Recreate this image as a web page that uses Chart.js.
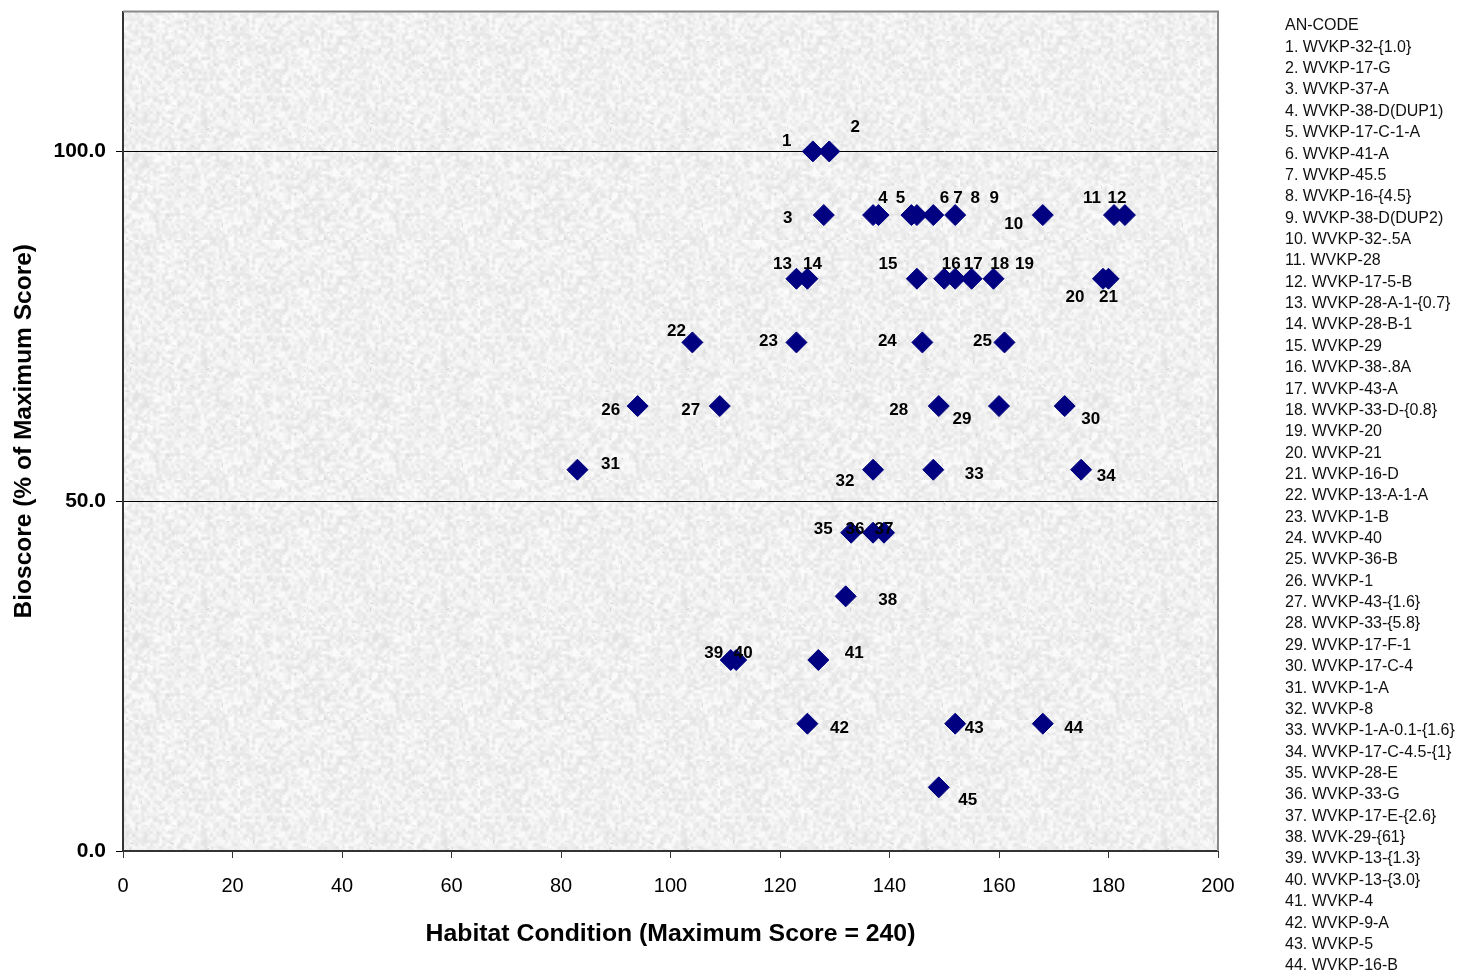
<!DOCTYPE html>
<html><head><meta charset="utf-8">
<script src="https://cdn.jsdelivr.net/npm/chart.js@4.4.1/dist/chart.umd.min.js"></script>
<style>html,body{margin:0;padding:0;background:#fff;overflow:hidden}</style>
</head><body>
<canvas id="c" width="1457" height="971"></canvas>
<script>
// ---- DATA ----
const pointNumbers = [1,2,3,4,5,6,7,8,9,10,11,12,13,14,15,16,17,18,19,20,21,22,23,24,25,26,27,28,29,30,31,32,33,34,35,36,37,38,39,40,41,42,43,44,45];
const habitatScores = [126,129,128,137,138,144,145,148,152,168,181,183,123,125,145,150,152,155,159,179,180,104,123,146,161,94,109,149,160,172,83,137,148,175,133,137,139,132,111,112,127,125,152,168,149];
const bioscores = [100,100,
  90.9,90.9,90.9,90.9,90.9,90.9,90.9,90.9,90.9,90.9,
  81.8,81.8,81.8,81.8,81.8,81.8,81.8,81.8,81.8,
  72.7,72.7,72.7,72.7,
  63.6,63.6,63.6,63.6,63.6,
  54.5,54.5,54.5,54.5,
  45.5,45.5,45.5,
  36.4,
  27.3,27.3,27.3,
  18.2,18.2,18.2,
  9.1];
const siteCodes = ["WVKP-32-{1.0}","WVKP-17-G","WVKP-37-A","WVKP-38-D(DUP1)","WVKP-17-C-1-A","WVKP-41-A","WVKP-45.5","WVKP-16-{4.5}","WVKP-38-D(DUP2)","WVKP-32-.5A","WVKP-28","WVKP-17-5-B","WVKP-28-A-1-{0.7}","WVKP-28-B-1","WVKP-29","WVKP-38-.8A","WVKP-43-A","WVKP-33-D-{0.8}","WVKP-20","WVKP-21","WVKP-16-D","WVKP-13-A-1-A","WVKP-1-B","WVKP-40","WVKP-36-B","WVKP-1","WVKP-43-{1.6}","WVKP-33-{5.8}","WVKP-17-F-1","WVKP-17-C-4","WVKP-1-A","WVKP-8","WVKP-1-A-0.1-{1.6}","WVKP-17-C-4.5-{1}","WVKP-28-E","WVKP-33-G","WVKP-17-E-{2.6}","WVK-29-{61}","WVKP-13-{1.3}","WVKP-13-{3.0}","WVKP-4","WVKP-9-A","WVKP-5","WVKP-16-B"];
const legendTitle = "AN-CODE";
const xTickValues = [0,20,40,60,80,100,120,140,160,180,200];
const yTickValues = [0,50,100];
const xTitle = "Habitat Condition (Maximum Score = 240)";
const yTitle = "Bioscore (% of Maximum Score)";

// ---- label placement (pixel offsets from marker centre) ----
const labelOffsets = [
  [-26,-10],[26,-24],[-36,3],[10,-17],[22,-17],[33,-17],[41,-17],[42,-17],[39,-17],[-29,9],
  [-22,-17],[-8,-17],[-14,-14],[5,-14],[-29,-14],[7,-14],[18,-14],[28,-14],[31,-14],[-28,19],
  [0,19],[-16,-11],[-28,-1],[-35,-1],[-22,-1],[-27,4],[-29,4],[-40,4],[-37,13],[26,13],
  [33,-5],[-28,12],[41,5],[25,7],[-28,-3],[-18,-3],[0,-3],[42,4],[-17,-7],[7,-7],
  [36,-7],[32,5],[19,5],[31,5],[29,13]
];

const FONT = "'Liberation Sans', Arial, Helvetica, sans-serif";

// ---- textured plot background (deterministic) ----
function mulberry32(a){return function(){a|=0;a=a+0x6D2B79F5|0;let t=Math.imul(a^a>>>15,1|a);t=t+Math.imul(t^t>>>7,61|t)^t;return((t^t>>>14)>>>0)/4294967296;}}
function makeTexture(){
  const rnd = mulberry32(12345);
  const S = 240;
  const small = document.createElement('canvas'); small.width = S/3; small.height = S/3;
  const sc = small.getContext('2d');
  const id = sc.createImageData(S/3, S/3);
  for (let i=0;i<id.data.length;i+=4){
    const v = 226 + Math.floor(rnd()*29);
    id.data[i]=v;id.data[i+1]=v;id.data[i+2]=v;id.data[i+3]=255;
  }
  sc.putImageData(id,0,0);
  const big = document.createElement('canvas'); big.width=S; big.height=S;
  const bc = big.getContext('2d');
  bc.imageSmoothingEnabled = true;
  bc.drawImage(small,0,0,S,S);
  for (let k=0;k<900;k++){
    const x=rnd()*S, y=rnd()*S, a=rnd()*Math.PI, l=1+rnd()*3;
    const g = rnd()<0.45 ? 210+Math.floor(rnd()*25) : 246+Math.floor(rnd()*9);
    bc.strokeStyle = 'rgb('+g+','+g+','+g+')';
    bc.lineWidth = 1;
    bc.beginPath(); bc.moveTo(x,y); bc.lineTo(x+Math.cos(a)*l, y+Math.sin(a)*l); bc.stroke();
  }
  return big;
}
const texture = makeTexture();

const bgPlugin = {
  id:'bg',
  beforeDraw(chart){
    const {ctx, chartArea:a} = chart;
    ctx.save();
    ctx.fillStyle = ctx.createPattern(texture,'repeat');
    ctx.fillRect(a.left, a.top, a.right-a.left, a.bottom-a.top);
    ctx.restore();
  },
  afterDraw(chart){
    const {ctx, chartArea:a} = chart;
    ctx.save();
    ctx.strokeStyle = '#8a8a8a'; ctx.lineWidth = 2;
    ctx.beginPath();
    ctx.moveTo(a.left, a.top); ctx.lineTo(a.right, a.top); ctx.lineTo(a.right, a.bottom);
    ctx.stroke();
    ctx.restore();
  }
};

const labelPlugin = {
  id:'numLabels',
  afterDatasetsDraw(chart){
    const {ctx} = chart;
    const meta = chart.getDatasetMeta(0);
    ctx.save();
    ctx.font = "bold 17px " + FONT;
    ctx.fillStyle = '#000';
    ctx.textAlign = 'center'; ctx.textBaseline = 'middle';
    meta.data.forEach((el,i)=>{
      const o = labelOffsets[i];
      ctx.fillText(String(pointNumbers[i]), el.x + o[0], el.y + o[1]);
    });
    ctx.restore();
  }
};

const listPlugin = {
  id:'codeList',
  afterDraw(chart){
    const {ctx} = chart;
    ctx.save();
    ctx.font = "16px " + FONT;
    ctx.fillStyle = '#111';
    ctx.textAlign = 'left'; ctx.textBaseline = 'middle';
    const x0 = 1285, y0 = 26, dy = 21.36;
    ctx.fillText(legendTitle, x0, y0);
    siteCodes.forEach((s,i)=>{
      ctx.fillText(pointNumbers[i] + '. ' + s, x0, y0 + (i+1)*dy);
    });
    ctx.restore();
  }
};

new Chart(document.getElementById('c'), {
  type:'scatter',
  data:{datasets:[{
    data: habitatScores.map((x,i)=>({x:x, y:bioscores[i]})),
    pointStyle:'rectRot', pointRadius:10.5, pointHoverRadius:10.5,
    backgroundColor:'#000080', borderColor:'#000080', borderWidth:1
  }]},
  options:{
    responsive:false, animation:false, devicePixelRatio:1,
    layout:{padding:{top:10, right:239, left:0, bottom:0}},
    plugins:{legend:{display:false}, tooltip:{enabled:false}},
    scales:{
      x:{
        type:'linear', min:0, max:200,
        afterBuildTicks(s){ s.ticks = xTickValues.map(v=>({value:v})); },
        afterFit(s){ s.height = 120; s.paddingLeft = 0; s.paddingRight = 0; },
        ticks:{font:{family:FONT, size:20}, color:'#000', padding:16, maxRotation:0, autoSkip:false},
        grid:{drawOnChartArea:false, drawTicks:true, tickLength:7, tickColor:'#333', tickWidth:1},
        border:{color:'#333', width:2},
        title:{display:true, text:xTitle, color:'#000', font:{family:FONT, size:24.8, weight:'bold'}, padding:{top:0, bottom:22}}
      },
      y:{
        type:'linear', min:0, max:120,
        afterBuildTicks(s){ s.ticks = yTickValues.map(v=>({value:v})); },
        afterFit(s){ s.width = 123; s.paddingTop = 0; s.paddingBottom = 0; },
        ticks:{font:{family:FONT, size:21, weight:'bold'}, color:'#000', padding:10, callback:v=>Number(v).toFixed(1)},
        grid:{color:c=> (c.tick && c.tick.value>0) ? '#000' : 'rgba(0,0,0,0)', lineWidth:1, drawTicks:true, tickLength:7, tickColor:'#000'},
        border:{color:'#333', width:2},
        title:{display:true, text:yTitle, color:'#000', font:{family:FONT, size:24.5, weight:'bold'}, padding:{top:10, bottom:0}}
      }
    }
  },
  plugins:[bgPlugin, labelPlugin, listPlugin]
});
</script>
</body></html>
